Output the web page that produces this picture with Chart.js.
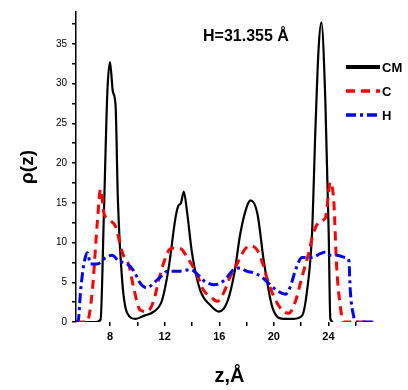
<!DOCTYPE html>
<html>
<head>
<meta charset="utf-8">
<script src="https://cdn.jsdelivr.net/npm/chart.js@4.4.1/dist/chart.umd.min.js"></script>
<style>
  html, body { margin: 0; padding: 0; background: #fff; }
  #wrap { width: 408px; height: 390px; }
</style>
</head>
<body>
<div id="wrap"><canvas id="rhoChart" width="408" height="390"></canvas></div>
<script>
// z positions (Å) and density values
const zCM = [5.5, 7.0, 7.3, 7.55, 7.8, 7.99, 8.2, 8.4, 8.57, 8.9, 9.26, 9.87, 10.5, 11.2, 11.8, 12.3, 12.8, 13.0, 13.2, 13.4, 13.65, 14.0, 14.6, 15.35, 15.97, 16.6, 17.1, 17.55, 18.04, 18.3, 18.8, 19.26, 19.9, 20.7, 21.45, 22.07, 22.44, 22.8, 23.04, 23.28, 23.48, 23.77, 24.02, 24.14, 24.35];
const vCM = [0, 0, 0.3, 14, 29, 32.7, 29, 27.2, 15.4, 4.9, 1.1, 0.4, 0.8, 1.3, 2.7, 6.9, 13.2, 14.6, 15, 16.4, 13.7, 8.7, 4.0, 2.1, 1.3, 2.6, 6.1, 11.2, 14.6, 15.3, 13.6, 7.7, 1.8, 0.4, 0.4, 0.8, 4.0, 11.2, 23.9, 34.4, 37.7, 28.1, 11.2, 0.4, 0];

const zC = [5.5, 6.3, 6.7, 7.06, 7.3, 7.55, 7.9, 8.4, 8.9, 9.4, 9.75, 10.2, 10.7, 11.2, 11.57, 11.9, 12.4, 12.8, 13.2, 13.65, 14.26, 14.85, 15.35, 15.85, 16.3, 16.8, 17.3, 17.9, 18.3, 18.8, 19.2, 19.5, 20.0, 20.6, 21.1, 21.6, 22.07, 22.56, 22.9, 23.4, 23.78, 24.14, 24.4, 24.6, 24.87, 25.1, 27.3];
const vC = [0, 0, 4.0, 12.5, 16.7, 13.7, 12.9, 12.0, 8.7, 7.0, 4.1, 1.5, 1.3, 2.7, 5.3, 7.3, 9.2, 9.3, 9.2, 8.1, 6.4, 4.0, 3.2, 2.6, 3.6, 5.7, 7.3, 9.2, 9.6, 9.0, 7.3, 5.5, 3.2, 1.5, 1.1, 2.7, 5.7, 8.7, 11.2, 12.7, 13.1, 17.6, 15, 7.0, 2.0, 0, 0];

const zH = [5.5, 5.65, 5.84, 6.08, 6.33, 6.57, 7.06, 7.67, 8.16, 8.6, 9.27, 9.75, 10.2, 10.7, 11.2, 11.7, 12.2, 13.16, 13.9, 14.4, 14.87, 15.6, 16.1, 16.6, 17.05, 17.55, 18.0, 18.5, 19.1, 19.6, 20.2, 20.85, 21.2, 21.6, 22.07, 22.8, 23.4, 23.8, 24.14, 24.6, 25.24, 25.5, 25.6, 25.85, 26.0, 27.3];
const vH = [0, 0, 4.0, 7.3, 8.7, 7.3, 7.3, 8.1, 8.4, 7.7, 7.3, 6.4, 4.9, 4.3, 4.9, 5.7, 6.4, 6.4, 6.6, 6.0, 5.2, 4.7, 4.9, 5.7, 6.6, 6.8, 6.4, 6.2, 5.7, 4.9, 4.0, 3.5, 4.4, 6.6, 8.1, 8.1, 8.6, 8.8, 8.4, 8.4, 8.1, 7.7, 4.0, 0.7, 0, 0];

const seriesNames = ["CM", "C", "H"];
const xTickValues = [8, 10, 12, 14, 16, 18, 20, 22, 24, 26];
const yTickValues = [0, 2.5, 5, 7.5, 10, 12.5, 15, 17.5, 20, 22.5, 25, 27.5, 30, 32.5, 35, 37.5];
const boxLabel = "H=31.355 Å";

function pts(xs, ys) {
  return xs.map(function (x, i) { return { x: x, y: ys[i] }; });
}

const styles = [
  { color: "#000000", width: 2.2, dash: [] },
  { color: "#ff0000", width: 3, dash: [9, 6] },
  { color: "#0000ff", width: 3, dash: [10, 4, 3, 4] },
];

// legend and label inside the plot, drawn like the original figure
const overlayPlugin = {
  id: "overlay",
  afterDraw: function (chart) {
    const ctx = chart.ctx;
    ctx.save();
    ctx.fillStyle = "#000";
    ctx.font = "bold 16px 'Liberation Sans', Arial, sans-serif";
    ctx.textAlign = "left";
    ctx.textBaseline = "middle";
    ctx.fillText(boxLabel, 203, 37);

    const rows = [67, 91, 115];
    ctx.font = "bold 13px 'Liberation Sans', Arial, sans-serif";
    seriesNames.forEach(function (name, i) {
      const s = styles[i];
      ctx.strokeStyle = s.color;
      ctx.lineWidth = i === 0 ? 4 : 3.5;
      ctx.setLineDash(s.dash);
      ctx.beginPath();
      ctx.moveTo(346, rows[i]);
      ctx.lineTo(380, rows[i]);
      ctx.stroke();
      ctx.setLineDash([]);
      ctx.fillStyle = "#000";
      ctx.fillText(name, 382, rows[i] + 1);
    });
    ctx.restore();
  },
};

const ctx = document.getElementById("rhoChart");

new Chart(ctx, {
  type: "line",
  data: {
    datasets: [
      { label: seriesNames[0], data: pts(zCM, vCM) },
      { label: seriesNames[1], data: pts(zC, vC) },
      { label: seriesNames[2], data: pts(zH, vH) },
    ].map(function (d, i) {
      d.borderColor = styles[i].color;
      d.borderWidth = styles[i].width;
      d.borderDash = styles[i].dash;
      d.pointRadius = 0;
      d.fill = false;
      d.cubicInterpolationMode = "monotone";
      d.order = 3 - i;
      return d;
    }),
  },
  options: {
    responsive: false,
    animation: false,
    devicePixelRatio: 1,
    layout: { padding: { left: 0, right: 25, top: 12, bottom: 0 } },
    plugins: {
      legend: { display: false },
      tooltip: { enabled: false },
    },
    scales: {
      x: {
        type: "linear",
        min: 5.5,
        max: 28,
        afterBuildTicks: function (scale) {
          scale.ticks = xTickValues.map(function (v) { return { value: v }; });
        },
        afterFit: function (scale) { scale.height = 68; },
        border: { display: false },
        grid: { drawOnChartArea: false, drawTicks: true, tickLength: 4, color: "#000", lineWidth: 1.5 },
        ticks: {
          color: "#000",
          padding: 4,
          maxRotation: 0,
          font: { size: 11, weight: "bold", family: "'Liberation Sans', Arial, sans-serif" },
          callback: function (v) { return v % 4 === 0 ? String(v) : ""; },
        },
        title: {
          display: true,
          text: "z,Å",
          color: "#000",
          padding: { top: 0, bottom: 2 },
          font: { size: 20, weight: "bold", family: "'Liberation Sans', Arial, sans-serif" },
        },
      },
      y: {
        min: 0,
        max: 39,
        afterBuildTicks: function (scale) {
          scale.ticks = yTickValues.map(function (v) { return { value: v }; });
        },
        afterFit: function (scale) { scale.width = 76; },
        border: { display: true, color: "#000", width: 1.5 },
        grid: { drawOnChartArea: false, drawTicks: true, tickLength: 4, color: "#000", lineWidth: 1.5 },
        ticks: {
          color: "#000",
          padding: 5,
          font: { size: 10, family: "'Liberation Sans', Arial, sans-serif" },
          callback: function (v) { return v % 5 === 0 ? String(v) : ""; },
        },
        title: {
          display: true,
          text: "ρ(z)",
          color: "#000",
          padding: { top: 16, bottom: 0 },
          font: { size: 19, weight: "bold", family: "'Liberation Sans', Arial, sans-serif" },
        },
      },
    },
  },
  plugins: [overlayPlugin],
});
</script>
</body>
</html>
